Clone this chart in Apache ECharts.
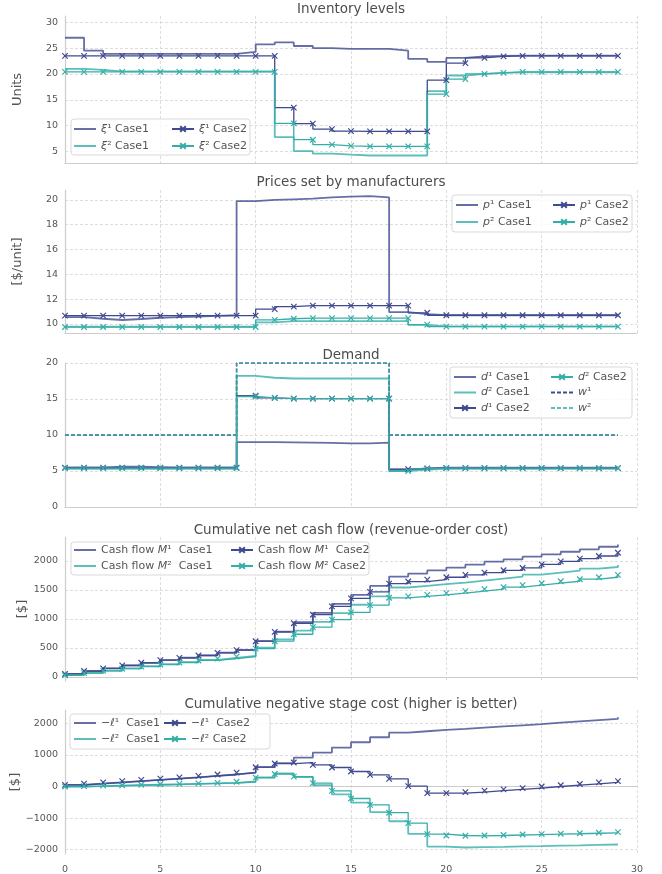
<!DOCTYPE html>
<html><head><meta charset="utf-8">
<script src="https://cdn.jsdelivr.net/npm/echarts@6/dist/echarts.min.js"></script>
<style>html,body{margin:0;padding:0;background:#fff}#c{width:662px;height:874px}</style>
</head><body><div id="c"></div>
<script>
// ---------- data ----------
const t = [0,1,2,3,4,5,6,7,8,9,10,11,12,13,14,15,16,17,18,19,20,21,22,23,24,25,26,27,28,29];
const xTicks = [0,5,10,15,20,25,30];

// Inventory levels
const xi1_c1 = [27,27,24.5,23.9,23.9,23.9,23.9,23.9,23.9,23.9,24.25,25.7,26.1,25.4,25.0,24.85,24.85,24.85,24.5,22.9,22.35,23.1,23.4,23.5,23.55,23.55,23.55,23.55,23.55,23.55];
const xi2_c1 = [21.0,21.0,20.8,20.5,20.5,20.5,20.5,20.5,20.5,20.5,20.5,20.5,7.8,5.1,4.6,4.4,4.25,4.25,4.25,4.25,16.7,19.7,20.0,20.2,20.3,20.3,20.3,20.3,20.3,20.3];
const xi1_c2 = [23.5,23.5,23.5,23.5,23.5,23.5,23.5,23.5,23.5,23.5,23.5,23.5,13.5,10.4,9.35,8.95,8.9,8.9,8.9,8.9,18.8,22.1,23.1,23.4,23.5,23.5,23.5,23.5,23.5,23.5];
const xi2_c2 = [20.4,20.4,20.4,20.4,20.4,20.4,20.4,20.4,20.4,20.4,20.4,20.4,10.45,7.3,6.35,6.1,6.0,6.0,6.0,6.0,16.1,19.0,20.0,20.2,20.4,20.4,20.4,20.4,20.4,20.4];

// Prices
const p1_c1 = [10.55,10.55,10.42,10.32,10.4,10.5,10.55,10.6,10.65,10.7,19.9,20.0,20.05,20.1,20.2,20.27,20.3,20.2,10.95,10.8,10.7,10.7,10.7,10.7,10.7,10.7,10.7,10.7,10.7,10.7];
const p2_c1 = [9.78,9.78,9.78,9.78,9.78,9.78,9.78,9.78,9.78,9.78,9.78,10.13,10.22,10.22,10.22,10.22,10.22,10.22,10.22,9.92,9.8,9.8,9.8,9.8,9.8,9.8,9.8,9.8,9.8,9.8];
const p1_c2 = [10.67,10.67,10.67,10.67,10.67,10.67,10.67,10.67,10.67,10.67,10.67,11.2,11.4,11.48,11.48,11.48,11.48,11.48,11.48,10.9,10.7,10.7,10.7,10.7,10.7,10.7,10.7,10.7,10.7,10.7];
const p2_c2 = [9.75,9.75,9.75,9.75,9.75,9.75,9.75,9.75,9.75,9.75,9.75,10.33,10.42,10.47,10.47,10.47,10.47,10.47,10.47,9.95,9.78,9.78,9.78,9.78,9.78,9.78,9.78,9.78,9.78,9.78];

// Demand
const d1_c1 = [5.5,5.5,5.5,5.6,5.6,5.55,5.5,5.5,5.5,5.5,9.0,9.0,8.98,8.95,8.9,8.85,8.85,8.95,5.2,5.35,5.45,5.45,5.45,5.45,5.45,5.45,5.45,5.45,5.45,5.45];
const d2_c1 = [5.3,5.3,5.3,5.3,5.3,5.3,5.3,5.3,5.3,5.3,18.2,17.95,17.85,17.85,17.85,17.85,17.85,17.85,5.0,5.2,5.3,5.3,5.3,5.3,5.3,5.3,5.3,5.3,5.3,5.3];
const d1_c2 = [5.45,5.45,5.45,5.45,5.45,5.45,5.45,5.45,5.45,5.45,15.45,15.15,15.05,15.05,15.05,15.05,15.05,15.05,5.25,5.35,5.4,5.4,5.4,5.4,5.4,5.4,5.4,5.4,5.4,5.4];
const d2_c2 = [5.4,5.4,5.4,5.4,5.4,5.4,5.4,5.4,5.4,5.4,15.35,15.15,15.05,15.05,15.05,15.05,15.05,15.05,5.0,5.3,5.4,5.4,5.4,5.4,5.4,5.4,5.4,5.4,5.4,5.4];
const w1 = [10,10,10,10,10,10,10,10,10,10,20,20,20,20,20,20,20,20,10,10,10,10,10,10,10,10,10,10,10,10];
const w2 = [10,10,10,10,10,10,10,10,10,10,20,20,20,20,20,20,20,20,10,10,10,10,10,10,10,10,10,10,10,10];

// Cumulative net cash flow
const M1_c1 = [52,100,148,198,245,290,332,374,420,467,620,780,945,1105,1262,1415,1571,1731,1783,1840,1886,1937,1989,2029,2074,2114,2160,2200,2246,2286];
const M2_c1 = [35,72,110,148,186,222,258,294,328,362,505,650,800,950,1100,1246,1389,1543,1571,1600,1629,1663,1697,1731,1766,1800,1834,1869,1897,1931];
const M1_c2 = [55,103,149,200,246,291,331,371,417,463,617,777,926,1074,1217,1355,1469,1611,1646,1680,1720,1760,1800,1840,1880,1943,1994,2040,2086,2143];
const M2_c2 = [30,68,106,143,180,215,250,285,318,350,490,617,737,860,989,1114,1240,1366,1389,1417,1446,1480,1514,1549,1583,1617,1651,1686,1720,1760];

// Cumulative negative stage cost
const l1_c1 = [50,90,130,170,210,250,290,335,380,440,610,737,916,1074,1232,1400,1558,1705,1747,1789,1821,1863,1900,1935,1970,2020,2060,2100,2140,2190];
const l1_c2 = [50,90,130,170,210,250,290,335,380,440,610,726,758,684,600,474,368,242,10,-210,-210,-180,-130,-90,-50,0,40,80,130,170];
const l2_c1 = [0,10,25,40,55,70,85,100,115,150,285,415,300,40,-250,-510,-810,-1100,-1500,-1900,-1930,-1920,-1910,-1895,-1885,-1870,-1860,-1845,-1835,-1820];
const l2_c2 = [0,10,25,40,55,70,85,100,115,150,280,395,310,105,-137,-380,-580,-830,-1160,-1505,-1550,-1560,-1550,-1535,-1520,-1505,-1495,-1480,-1465,-1445];

const titles = ['Inventory levels','Prices set by manufacturers','Demand','Cumulative net cash flow (revenue-order cost)','Cumulative negative stage cost (higher is better)'];
const yNames = ['Units','[$/unit]','','[$]','[$]'];

const labels = {
  xi1_c1:'{i|ξ}¹ Case1', xi2_c1:'{i|ξ}² Case1', xi1_c2:'{i|ξ}¹ Case2', xi2_c2:'{i|ξ}² Case2',
  p1_c1:'{i|p}¹ Case1', p2_c1:'{i|p}² Case1', p1_c2:'{i|p}¹ Case2', p2_c2:'{i|p}² Case2',
  d1_c1:'{i|d}¹ Case1', d2_c1:'{i|d}² Case1', d1_c2:'{i|d}¹ Case2', d2_c2:'{i|d}² Case2',
  w1:'{i|w}¹', w2:'{i|w}²',
  M1_c1:'Cash flow {i|M}¹  Case1', M2_c1:'Cash flow {i|M}²  Case1', M1_c2:'Cash flow {i|M}¹  Case2', M2_c2:'Cash flow {i|M}² Case2',
  l1_c1:'−{i|ℓ}¹  Case1', l2_c1:'−{i|ℓ}²  Case1', l1_c2:'−{i|ℓ}¹  Case2', l2_c2:'−{i|ℓ}² Case2'
};

// ---------- styling ----------
const FONT = 'DejaVu Sans';
const TXT = '#555555';
const DARK = '#3f4a8f';
const TEAL = '#36aea8';
const GRIDC = '#d4d4d4';
const SPINE = '#cccccc';
const XMARK = 'path://M0,0L10,10M10,0L0,10';

const layout = [
  {top:16, height:147, min:2.8, max:31.2, gap:41, edge:true},
  {top:190, height:143, min:9.27, max:20.8, gap:41, edge:true},
  {top:363, height:144, min:0, max:20, gap:41, edge:false},
  {top:537, height:144, min:-69, max:2414, gap:36, edge:true},
  {top:710, height:144, min:-2136, max:2420, gap:43, edge:true}
];
const titleY = [10, 183, 356, 531, 705];

const pair = arr => t.map((x, i) => [x, arr[i]]);

function c1(key, arr, g, color, step) {
  return {type:'line', name:key, xAxisIndex:g, yAxisIndex:g, data:pair(arr), step:step,
    symbol:'circle', symbolSize:4, showSymbol:false, lineStyle:{color:color, width:1.8, opacity:0.8},
    itemStyle:{color:color, opacity:0}, z:2};
}
function c2(key, arr, g, color, step) {
  return {type:'line', name:key, xAxisIndex:g, yAxisIndex:g, data:pair(arr), step:step,
    symbol:XMARK, symbolSize:5.5, showSymbol:true,
    lineStyle:{color:color, width:1.3}, itemStyle:{color:color, borderColor:color, borderWidth:1.2}, z:3};
}
function dash(key, arr, g, color, op) {
  return {type:'line', name:key, xAxisIndex:g, yAxisIndex:g, data:pair(arr), step:'start',
    symbol:'circle', symbolSize:4, showSymbol:false, lineStyle:{color:color, width:1.5, type:[4,2], opacity:op},
    itemStyle:{color:color, opacity:0}, z:2};
}

const series = [
  c1('xi1_c1', xi1_c1, 0, DARK, 'start'), c1('xi2_c1', xi2_c1, 0, TEAL, 'start'),
  c2('xi1_c2', xi1_c2, 0, DARK, 'start'), c2('xi2_c2', xi2_c2, 0, TEAL, 'start'),
  c1('p1_c1', p1_c1, 1, DARK, 'start'), c1('p2_c1', p2_c1, 1, TEAL, 'start'),
  c2('p1_c2', p1_c2, 1, DARK, 'start'), c2('p2_c2', p2_c2, 1, TEAL, 'start'),
  c1('d1_c1', d1_c1, 2, DARK, 'start'), c1('d2_c1', d2_c1, 2, TEAL, 'start'),
  c2('d1_c2', d1_c2, 2, DARK, 'start'), c2('d2_c2', d2_c2, 2, TEAL, 'start'),
  dash('w1', w1, 2, DARK, 1), dash('w2', w2, 2, TEAL, 0.8),
  c1('M1_c1', M1_c1, 3, DARK, 'end'), c1('M2_c1', M2_c1, 3, TEAL, 'end'),
  c2('M1_c2', M1_c2, 3, DARK, 'end'), c2('M2_c2', M2_c2, 3, TEAL, 'end'),
  c1('l1_c1', l1_c1, 4, DARK, 'end'), c1('l2_c1', l2_c1, 4, TEAL, 'end'),
  c2('l1_c2', l1_c2, 4, DARK, 'end'), c2('l2_c2', l2_c2, 4, TEAL, 'end')
];

const grid = layout.map(L => ({left:65, right:25, top:L.top, height:L.height, containLabel:false, outerBoundsMode:'none'}));
const xAxis = layout.map((L, g) => ({
  type:'value', gridIndex:g, min:xTicks[0], max:xTicks[xTicks.length-1], interval:5,
  axisLine:{show:true, lineStyle:{color:SPINE, width:1.2}}, axisTick:{show:false},
  axisLabel:{show:g===4, fontFamily:FONT, fontSize:9.5, color:TXT, margin:11},
  splitLine:{show:true, showMinLine:false, lineStyle:{color:GRIDC, type:[3,2], width:0.8}}
}));
const yAxis = layout.map((L, g) => ({
  type:'value', gridIndex:g, min:L.min, max:L.max,
  name:yNames[g], nameLocation:'middle', nameGap:L.gap, nameMoveOverlap:false,
  nameTextStyle:{fontFamily:FONT, fontSize:13, color:TXT},
  axisLine:{show:true, lineStyle:{color:SPINE, width:1.2}}, axisTick:{show:false},
  axisLabel:{fontFamily:FONT, fontSize:9.5, color:TXT, margin:7,
    showMinLabel:!L.edge, showMaxLabel:!L.edge,
    formatter: v => String(v).replace('-', '\u2212')},
  splitLine:{show:true, showMinLine:false, showMaxLine:!L.edge, lineStyle:{color:GRIDC, type:[3,2], width:0.8}}
}));

const title = titles.map((s, g) => ({
  text:s, left:351, top:titleY[g]-8, textAlign:'center', padding:0,
  textStyle:{fontFamily:FONT, fontSize:13.5, fontWeight:'normal', color:'#4d4d4d'}
}));

const textStyle = {fontFamily:FONT, fontSize:11, color:TXT, lineHeight:13,
  rich:{i:{fontFamily:FONT, fontSize:11, fontStyle:'italic', color:TXT, lineHeight:13}}};
function lg(data, left, top, gap) {
  return {orient:'vertical', left:left, top:top, itemWidth:22, itemHeight:7, itemGap:gap, padding:0,
    data:data, selectedMode:false, z:6, formatter: n => labels[n], textStyle:textStyle};
}
const legend = [
  lg(['xi1_c1','xi2_c1'], 73, 122.5, 4), lg(['xi1_c2','xi2_c2'], 171, 122.5, 4),
  lg(['p1_c1','p2_c1'], 455, 198.5, 4), lg(['p1_c2','p2_c2'], 552, 198.5, 4),
  lg(['d1_c1','d2_c1','d1_c2'], 453, 370.5, 2.5), lg(['d2_c2','w1','w2'], 550, 370.5, 2.5),
  lg(['M1_c1','M2_c1'], 73, 543.5, 3), lg(['M1_c2','M2_c2'], 230, 543.5, 3),
  lg(['l1_c1','l2_c1'], 73, 716.5, 3), lg(['l1_c2','l2_c2'], 163, 716.5, 3)
];
const frames = [[71,119,179,36],[452,195,180,37],[450,367,182,51],[71,542,298,33],[70,714,200,35]];
const graphic = frames.map(f => ({type:'rect', silent:true, z:5,
  shape:{x:f[0], y:f[1], width:f[2], height:f[3], r:3},
  style:{fill:'rgba(255,255,255,0.8)', stroke:'#d9d9d9', lineWidth:1}}));

const chart = echarts.init(document.getElementById('c'));
chart.setOption({animation:false, backgroundColor:'#ffffff', title, grid, xAxis, yAxis, legend, graphic, series});
</script></body></html>
